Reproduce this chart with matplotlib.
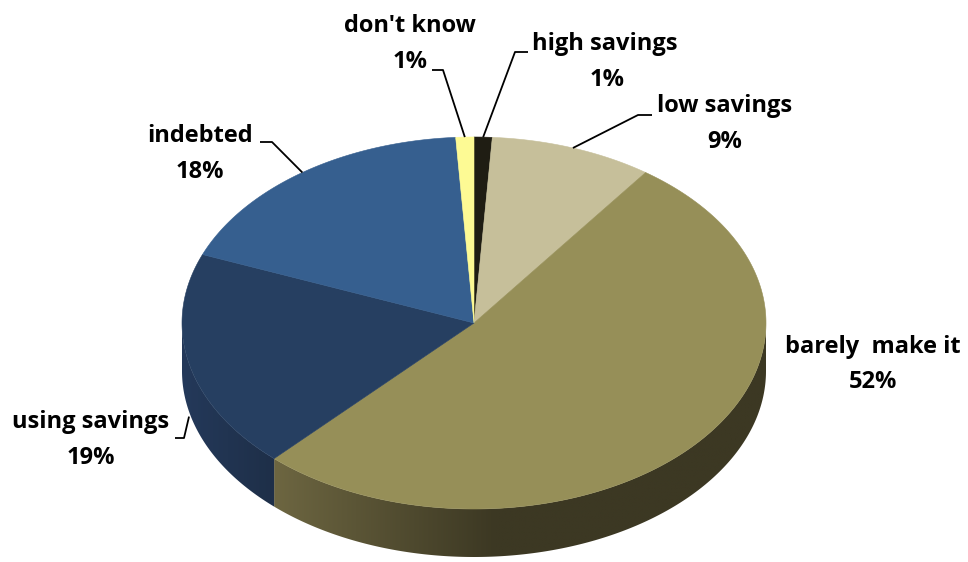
import numpy as np
import matplotlib
matplotlib.use("Agg")
import matplotlib.pyplot as plt
from matplotlib.patches import Polygon
from matplotlib.colors import LinearSegmentedColormap

# Household financial situation (share of respondents, %)
categories = ["high savings", "low savings", "barely  make it",
              "using savings", "indebted", "don't know"]
shares = [1, 9, 52, 19, 18, 1]

top_colors = ["#1f1d13", "#c6bf9a", "#968f58", "#263f61", "#365f8f", "#fdfa94"]
# side wall shading: (light end, dark end)
side_colors = [("#141309", "#141309"), ("#7a7558", "#5a563c"),
               ("#6d6641", "#3c3823"), ("#24395a", "#1e2f48"),
               ("#1f3552", "#1a2c45"), ("#a8a660", "#8d8a4d")]

# label layout: name centre, percent centre, leader elbow path (label side first)
label_pos = {
    "high savings": ((605, 44), (607, 80), [(528, 52), (515, 52)]),
    "low savings": ((725, 106), (725, 142), [(652, 115), (638, 115)]),
    "barely  make it": ((873, 347), (873, 382), None),
    "using savings": ((91, 422), (91, 458), [(175, 438), (184, 438)]),
    "indebted": ((200, 136), (200, 172), [(260, 142), (272, 142)]),
    "don't know": ((410, 26), (410, 62), [(432, 70), (443, 70)]),
}

W, H = 968, 562
CX, CY = 474, 323
RX, RY = 292, 186
DEPTH = 48

fig = plt.figure(figsize=(W / 100, H / 100), dpi=100)
ax = fig.add_axes([0, 0, 1, 1])
ax.set_xlim(0, W)
ax.set_ylim(H, 0)
ax.axis("off")


def ell(theta, dy=0.0):
    t = np.radians(theta)
    return CX + RX * np.sin(t), CY - RY * np.cos(t) + dy


bounds = np.concatenate([[0], np.cumsum(shares)]) / sum(shares) * 360.0

# side walls (front half only: 90..270 degrees clockwise from top)
for i in range(len(shares)):
    a0, a1 = bounds[i], bounds[i + 1]
    s, e = max(a0, 90.0), min(a1, 270.0)
    if e <= s:
        continue
    th = np.linspace(s, e, 200)
    xt, yt = ell(th)
    xb, yb = ell(th[::-1], DEPTH)
    pts = np.column_stack([np.concatenate([xt, xb]), np.concatenate([yt, yb])])
    poly = Polygon(pts, closed=True, facecolor="none", edgecolor="none")
    ax.add_patch(poly)
    x0, x1 = pts[:, 0].min(), pts[:, 0].max()
    light, dark = side_colors[i]
    if i == 2:
        cmap = LinearSegmentedColormap.from_list("side", [(0, light), (0.45, dark), (1, dark)])
    else:
        cmap = LinearSegmentedColormap.from_list("side", [light, dark])
    grad = np.linspace(0, 1, 256)[None, :]
    im = ax.imshow(grad, cmap=cmap, aspect="auto",
                   extent=(x0, x1, pts[:, 1].max(), pts[:, 1].min()),
                   interpolation="bilinear", zorder=1)
    im.set_clip_path(poly)

# top faces
for i in range(len(shares)):
    a0, a1 = bounds[i], bounds[i + 1]
    th = np.linspace(a0, a1, max(int((a1 - a0) * 2), 4))
    xt, yt = ell(th)
    pts = np.column_stack([np.concatenate([[CX], xt]), np.concatenate([[CY], yt])])
    ax.add_patch(Polygon(pts, closed=True, facecolor=top_colors[i],
                         edgecolor=top_colors[i], linewidth=0.4, zorder=2))

font = dict(family=["Open Sans", "DejaVu Sans"], fontweight="bold", fontsize=17,
            color="black", ha="center", va="center", zorder=4)

for i, name in enumerate(categories):
    (nx, ny), (px, py), elbow = label_pos[name]
    ax.text(nx, ny, name, **font)
    ax.text(px, py, f"{shares[i]}%", **font)
    if elbow is None:
        continue
    mid = (bounds[i] + bounds[i + 1]) / 2
    front = 90 < mid < 270
    axx, ayy = ell(mid, DEPTH + 5 if front else 0)
    xs = [p[0] for p in elbow] + [axx]
    ys = [p[1] for p in elbow] + [ayy]
    ax.plot(xs, ys, color="black", lw=1.3, solid_capstyle="butt", zorder=3)

fig.savefig("out.png", dpi=100, facecolor="white")
